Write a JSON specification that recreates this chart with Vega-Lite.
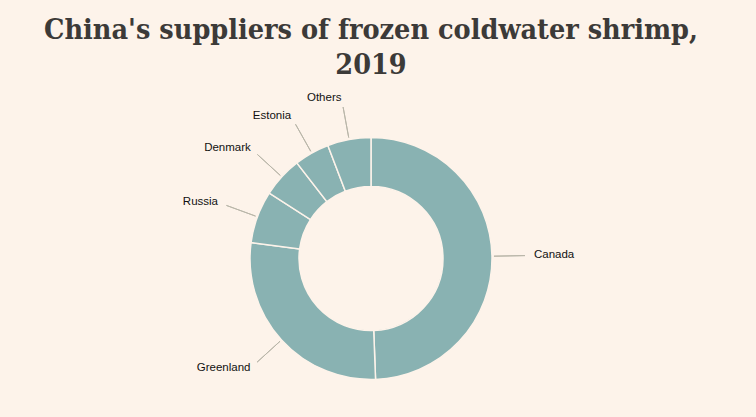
{
  "$schema": "https://vega.github.io/schema/vega-lite/v6.json",
  "width": 742,
  "height": 317,
  "autosize": {"type": "none"},
  "padding": {"left": 0, "top": 100, "right": 14, "bottom": 0},
  "background": "#FDF3EA",
  "config": {"view": {"stroke": null}},
  "title": {
    "text": ["China's suppliers of frozen coldwater shrimp,", "2019"],
    "font": "DejaVu Serif Condensed",
    "fontSize": 28.5,
    "fontWeight": "bold",
    "color": "#3C3A38",
    "lineHeight": 35,
    "anchor": "middle",
    "offset": 13
  },
  "data": {
    "values": [
      {"Country": "Canada", "share": 49.4, "rank": 1},
      {"Country": "Greenland", "share": 27.7, "rank": 2},
      {"Country": "Russia", "share": 7.0, "rank": 3},
      {"Country": "Denmark", "share": 5.4, "rank": 4},
      {"Country": "Estonia", "share": 4.7, "rank": 5},
      {"Country": "Others", "share": 5.8, "rank": 6}
    ]
  },
  "encoding": {
    "theta": {"field": "share", "type": "quantitative", "stack": true},
    "order": {"field": "rank", "type": "quantitative"},
    "detail": {"field": "Country", "type": "nominal"}
  },
  "layer": [
    {
      "mark": {"type": "arc", "outerRadius": 121, "innerRadius": 72, "fill": "#89B2B2", "stroke": "#FDF3EA", "strokeWidth": 1.5}
    },
    {
      "mark": {"type": "arc", "outerRadius": 154, "innerRadius": 123, "padAngle": 3, "fill": null, "stroke": "#B9B6A9", "strokeWidth": 1}
    },
    {
      "mark": {
        "type": "text",
        "radius": 163,
        "align": {"expr": "datum.Country === 'Canada' ? 'left' : 'right'"},
        "baseline": "middle",
        "font": "Liberation Sans",
        "fontSize": 11.5,
        "color": "#111111"
      },
      "encoding": {"text": {"field": "Country", "type": "nominal"}}
    }
  ]
}
